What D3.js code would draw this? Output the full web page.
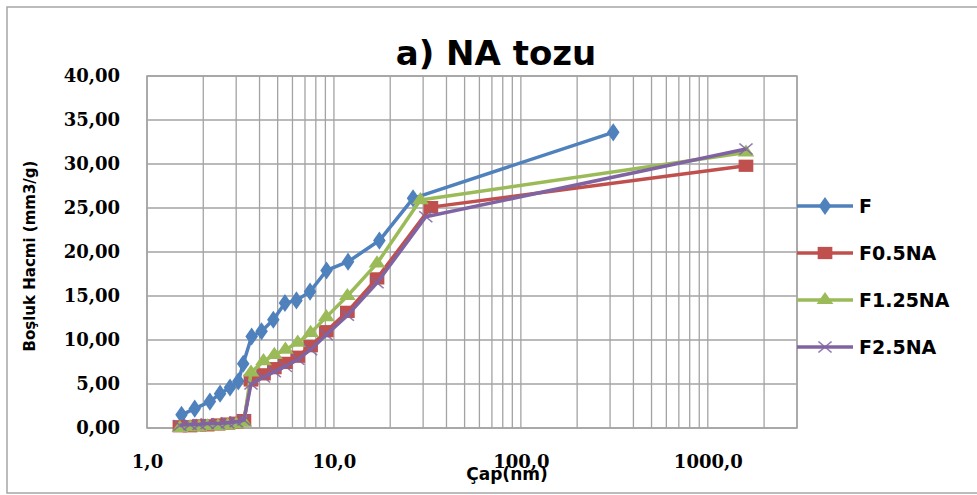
<!DOCTYPE html>
<html>
<head>
<meta charset="utf-8">
<script src="https://cdn.jsdelivr.net/npm/d3@7"></script>
<style>
  html, body { margin: 0; padding: 0; background: #fff; }
  svg { display: block; }
</style>
</head>
<body>
<svg id="chart" width="977" height="495"></svg>
<script>
// Pore diameter (nm) and pore volume (mm3/g) for each sample
const fDiam   = [1.53, 1.80, 2.17, 2.46, 2.78, 3.08, 3.27, 3.63, 4.10, 4.74, 5.47, 6.30, 7.45, 9.13, 11.9, 17.5, 26.5, 312];
const fVol    = [1.5, 2.2, 3.0, 3.9, 4.6, 5.3, 7.3, 10.4, 11.0, 12.3, 14.2, 14.5, 15.5, 17.9, 18.9, 21.3, 26.1, 33.6];

const f05Diam = [1.5, 1.7, 1.9, 2.1, 2.4, 2.7, 3.0, 3.3, 3.6, 4.2, 4.8, 5.5, 6.4, 7.5, 9.1, 11.8, 17.0, 33, 1600];
const f05Vol  = [0.2, 0.2, 0.3, 0.3, 0.4, 0.5, 0.6, 0.9, 5.4, 6.1, 6.8, 7.4, 8.1, 9.3, 11.0, 13.2, 17.0, 25.1, 29.8];

const f125Diam = [1.5, 1.7, 1.9, 2.1, 2.4, 2.7, 3.0, 3.3, 3.6, 4.2, 4.8, 5.5, 6.4, 7.5, 9.1, 11.8, 17.0, 29, 1600];
const f125Vol  = [0.0, 0.1, 0.1, 0.2, 0.2, 0.3, 0.4, 0.6, 6.3, 7.6, 8.3, 8.9, 9.7, 10.8, 12.6, 15.0, 18.7, 25.9, 31.3];

const f25Diam = [1.5, 1.7, 1.9, 2.1, 2.4, 2.7, 3.0, 3.3, 3.6, 4.2, 4.8, 5.5, 6.4, 7.5, 9.1, 11.8, 17.0, 31, 1600];
const f25Vol  = [0.3, 0.4, 0.4, 0.5, 0.5, 0.6, 0.7, 0.9, 5.0, 5.8, 6.4, 7.0, 7.8, 8.9, 10.6, 12.8, 16.5, 24.0, 31.7];

const seriesNames = ["F", "F0.5NA", "F1.25NA", "F2.5NA"];
const xTickValues = [1, 10, 100, 1000];
const xTickLabels = ["1,0", "10,0", "100,0", "1000,0"];
const yTickValues = [0, 5, 10, 15, 20, 25, 30, 35, 40];

const titleText = "a) NA tozu";
const xTitle = "Çap(nm)";
const yTitle = "Boşluk Hacmi (mm3/g)";

const series = [
  { name: seriesNames[0], xs: fDiam,    ys: fVol,    color: "#4F81BD", marker: "diamond" },
  { name: seriesNames[1], xs: f05Diam,  ys: f05Vol,  color: "#C0504D", marker: "square" },
  { name: seriesNames[2], xs: f125Diam, ys: f125Vol, color: "#9BBB59", marker: "triangle" },
  { name: seriesNames[3], xs: f25Diam,  ys: f25Vol,  color: "#8064A2", marker: "cross" }
];

const svg = d3.select("#chart");
const plot = { left: 147, right: 797, top: 76, bottom: 428 };

const x = d3.scaleLog().domain([1, 3000]).range([plot.left, plot.right]);
const y = d3.scaleLinear().domain([0, 40]).range([plot.bottom, plot.top]);

// outer chart frame
svg.append("rect")
  .attr("x", 7).attr("y", 7)
  .attr("width", 1000).attr("height", 486)
  .attr("fill", "#fff")
  .attr("stroke", "#a6a6a6").attr("stroke-width", 1.5);

// gridlines
const gridColor = "#a3a3a3";
const grid = svg.append("g");
grid.selectAll("line.v").data(x.ticks()).join("line")
  .attr("x1", d => x(d)).attr("x2", d => x(d))
  .attr("y1", plot.top).attr("y2", plot.bottom)
  .attr("stroke", gridColor).attr("stroke-width", 1.3);
grid.selectAll("line.h").data(yTickValues).join("line")
  .attr("x1", plot.left).attr("x2", plot.right)
  .attr("y1", d => y(d)).attr("y2", d => y(d))
  .attr("stroke", gridColor).attr("stroke-width", 1.3);
grid.append("rect")
  .attr("x", plot.left).attr("y", plot.top)
  .attr("width", plot.right - plot.left).attr("height", plot.bottom - plot.top)
  .attr("fill", "none").attr("stroke", gridColor).attr("stroke-width", 1.5);

// y axis labels
const yAxis = d3.axisLeft(y).tickValues(yTickValues)
  .tickFormat(d => d3.format(".2f")(d).replace(".", ","))
  .tickSize(0).tickPadding(27);
svg.append("g").attr("transform", `translate(${plot.left},0)`).call(yAxis)
  .call(g => g.select(".domain").remove())
  .selectAll("text")
  .attr("font-family", "DejaVu Serif").attr("font-weight", "bold")
  .attr("font-size", 18).attr("fill", "#000");

// x axis labels
const xAxis = d3.axisBottom(x).tickValues(xTickValues)
  .tickFormat((d, i) => xTickLabels[i])
  .tickSize(0).tickPadding(27);
svg.append("g").attr("transform", `translate(0,${plot.bottom})`).call(xAxis)
  .call(g => g.select(".domain").remove())
  .selectAll("text")
  .attr("font-family", "DejaVu Serif").attr("font-weight", "bold")
  .attr("font-size", 18).attr("fill", "#000");

// marker shapes
function markerPath(kind) {
  if (kind === "diamond") return d3.symbol(d3.symbolDiamond, 95)();
  if (kind === "square") return d3.symbol(d3.symbolSquare, 150)();
  if (kind === "triangle") return d3.symbol(d3.symbolTriangle, 85)();
  return d3.symbol(d3.symbolTimes, 80)();
}
function drawMarker(g, kind, color, px, py) {
  const p = g.append("path")
    .attr("d", markerPath(kind))
    .attr("transform", `translate(${px},${py}) scale(1.2,1)`);
  if (kind === "cross") {
    p.attr("fill", "none").attr("stroke", color).attr("stroke-width", 1.4).attr("stroke-opacity", 0.85);
  } else {
    p.attr("fill", color);
  }
}

const line = d3.line().x(d => x(d[0])).y(d => y(d[1]));

series.forEach(s => {
  const pts = s.xs.map((v, i) => [v, s.ys[i]]);
  const g = svg.append("g");
  g.append("path").datum(pts)
    .attr("d", line)
    .attr("fill", "none").attr("stroke", s.color)
    .attr("stroke-width", 3.5).attr("stroke-linejoin", "round");
  pts.forEach(p => drawMarker(g, s.marker, s.color, x(p[0]), y(p[1])));
});

// legend
const legendY = [206, 253, 300, 347];
series.forEach((s, i) => {
  const g = svg.append("g");
  g.append("line")
    .attr("x1", 797).attr("x2", 853)
    .attr("y1", legendY[i]).attr("y2", legendY[i])
    .attr("stroke", s.color).attr("stroke-width", 3.5);
  drawMarker(g, s.marker, s.color, 825, legendY[i]);
  g.append("text")
    .attr("x", 859).attr("y", legendY[i])
    .attr("dy", "0.36em")
    .attr("font-family", "DejaVu Sans").attr("font-weight", "bold")
    .attr("font-size", 19).attr("fill", "#000")
    .text(s.name);
});

// titles
svg.append("text")
  .attr("x", 496).attr("y", 65)
  .attr("text-anchor", "middle")
  .attr("font-family", "DejaVu Sans").attr("font-weight", "bold")
  .attr("font-size", 34)
  .attr("fill", "#000")
  .text(titleText);

svg.append("text")
  .attr("x", 507).attr("y", 480)
  .attr("text-anchor", "middle")
  .attr("font-family", "DejaVu Sans").attr("font-weight", "bold")
  .attr("font-size", 17).attr("fill", "#000")
  .text(xTitle);

svg.append("text")
  .attr("transform", "translate(35,256) rotate(-90)")
  .attr("text-anchor", "middle")
  .attr("font-family", "DejaVu Sans").attr("font-weight", "bold")
  .attr("font-size", 15).attr("fill", "#000")
  .text(yTitle);
</script>
</body>
</html>
